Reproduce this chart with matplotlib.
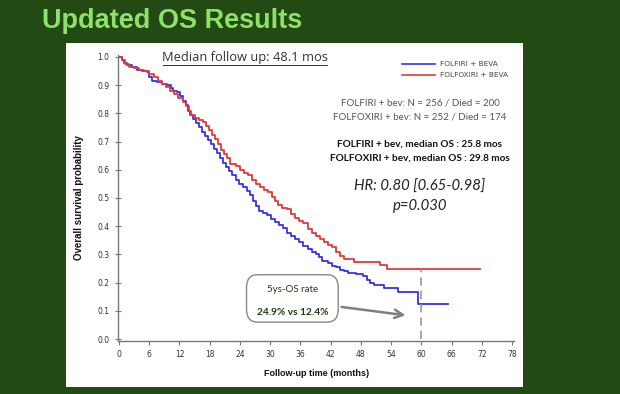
import matplotlib
matplotlib.use("Agg")
import matplotlib.pyplot as plt
from matplotlib.patches import FancyBboxPatch

# Kaplan-Meier steps (months, survival probability)
folfiri_t = [0, 0.5, 1.0, 1.5, 2.5, 3.5, 4.5, 5.5, 6.0, 6.5, 7.5, 8.5, 9.5, 10.3, 10.8,
             11.5, 12.2, 12.7, 13.2, 13.6, 14.0, 14.6, 15.2, 15.8, 16.4, 17.0, 17.6,
             18.2, 18.8, 19.4, 20.0, 20.6, 21.2, 21.8, 22.5, 23.2, 23.9, 24.6, 25.3,
             26.0, 26.6, 27.1, 27.8, 28.6, 29.4, 30.2, 31.0, 31.8, 32.6, 33.4, 34.2,
             35.0, 35.8, 36.6, 37.4, 38.2, 39.0, 39.6, 40.3, 41.5, 42.3, 43.0, 43.8,
             44.6, 45.5, 47.0, 48.5, 49.2, 49.8, 50.6, 52.5, 55.4, 59.3, 65.3]
folfiri_s = [1.0, 0.99, 0.98, 0.97, 0.965, 0.955, 0.95, 0.945, 0.93, 0.915, 0.91, 0.905,
             0.90, 0.89, 0.88, 0.875, 0.86, 0.845, 0.83, 0.81, 0.795, 0.78, 0.765, 0.75,
             0.735, 0.72, 0.705, 0.69, 0.675, 0.66, 0.64, 0.625, 0.61, 0.595, 0.58,
             0.565, 0.55, 0.54, 0.525, 0.51, 0.49, 0.47, 0.455, 0.447, 0.44, 0.425,
             0.415, 0.405, 0.395, 0.375, 0.365, 0.355, 0.345, 0.33, 0.32, 0.31, 0.30,
             0.29, 0.275, 0.27, 0.26, 0.255, 0.245, 0.24, 0.235, 0.23, 0.225, 0.21,
             0.20, 0.19, 0.18, 0.168, 0.124, 0.124]

folfoxiri_t = [0, 0.5, 1.2, 2.0, 3.0, 4.0, 5.0, 6.0, 7.0, 7.8, 8.6, 9.4, 10.2, 11.0,
               11.8, 12.6, 13.3, 13.8, 14.3, 15.0, 15.8, 16.6, 17.2, 17.8, 18.4, 19.0,
               19.6, 20.2, 20.8, 21.4, 22.0, 23.2, 24.0, 24.8, 25.6, 26.4, 27.2, 28.0,
               28.8, 29.6, 30.4, 31.0, 31.6, 32.4, 33.4, 34.2, 35.0, 35.8, 36.6, 37.4,
               38.2, 39.0, 39.8, 40.6, 41.4, 42.2, 43.0, 43.8, 44.6, 46.7, 51.8, 53.1,
               71.6]
folfoxiri_s = [1.0, 0.99, 0.975, 0.965, 0.96, 0.955, 0.95, 0.94, 0.93, 0.915, 0.905,
               0.895, 0.88, 0.87, 0.855, 0.84, 0.825, 0.81, 0.795, 0.785, 0.775, 0.77,
               0.755, 0.74, 0.725, 0.71, 0.69, 0.67, 0.655, 0.64, 0.62, 0.612, 0.60,
               0.59, 0.58, 0.565, 0.55, 0.54, 0.53, 0.52, 0.505, 0.49, 0.475, 0.465,
               0.46, 0.445, 0.43, 0.42, 0.41, 0.39, 0.375, 0.365, 0.355, 0.345, 0.335,
               0.325, 0.31, 0.295, 0.283, 0.274, 0.262, 0.248, 0.248]

series_names = ["FOLFIRI + BEVA", "FOLFOXIRI + BEVA"]
x_ticks = list(range(0, 79, 6))
y_ticks = [i / 10 for i in range(11)]
five_year = 60
os5_red = 0.248

BG = "#224a12"
BLUE = "#3535e0"
RED = "#e23a3a"

fig = plt.figure(figsize=(6.2, 3.94), dpi=100)
fig.patch.set_facecolor(BG)

# white slide panel as a bare background axes
panel = fig.add_axes([0.1065, 0.0178, 0.737, 0.873], zorder=-5)
panel.set_facecolor("white")
panel.set_xticks([])
panel.set_yticks([])
for s in panel.spines.values():
    s.set_visible(False)

fig.text(0.068, 0.928, "Updated OS Results", color="#8de068", fontsize=19.5,
         fontweight="bold", family="Liberation Sans", va="baseline")

ax = fig.add_axes([0.1903, 0.1345, 0.639, 0.726])
ax.set_facecolor("none")
ax.step(folfiri_t, folfiri_s, where="post", color=BLUE, lw=1.3, label=series_names[0])
ax.step(folfoxiri_t, folfoxiri_s, where="post", color=RED, lw=1.3, label=series_names[1])

ax.set_xlim(-0.2, 78.4)
ax.set_ylim(-0.007, 1.007)
ax.set_xticks(x_ticks)
ax.set_yticks(y_ticks)
ax.set_yticklabels([f"{v:.1f}" for v in y_ticks])
for s in ["top", "right"]:
    ax.spines[s].set_visible(False)
for s in ["left", "bottom"]:
    ax.spines[s].set_color("#777777")
    ax.spines[s].set_linewidth(1.0)
ax.tick_params(colors="#777777", labelcolor="#333333", labelsize=5.5, length=3,
               width=0.8, direction="out")
ax.tick_params(axis="y", direction="inout", length=5)

ax.set_xlabel("Follow-up time (months)", fontsize=6.5, fontweight="bold",
              color="#111111", labelpad=7, family="Liberation Sans")
ax.set_ylabel("Overall survival probability", fontsize=7, fontweight="bold",
              color="#111111", labelpad=10, family="Liberation Sans")

# 5-year marker
ax.plot([five_year, five_year], [0, os5_red], ls=(0, (5, 3)), color="#999999", lw=1.2)

# legend drawn by hand to match the SAS style
ax.plot([56.1, 62.7], [0.975, 0.975], color=BLUE, lw=1.2)
ax.plot([56.1, 62.7], [0.936, 0.936], color=RED, lw=1.2)
ax.text(63.7, 0.975, series_names[0], fontsize=5.3, color="#444444", va="center")
ax.text(63.7, 0.936, series_names[1], fontsize=5.3, color="#444444", va="center")

ax.text(25, 0.997, "Median follow up: 48.1 mos", fontsize=9.3, color="#333333",
        ha="center", va="center", family="Open Sans")
ax.plot([8.7, 41.3], [0.972, 0.972], color="#333333", lw=0.7)

ax.text(59.7, 0.836, "FOLFIRI + bev: N = 256 / Died = 200", fontsize=7,
        color="#555555", ha="center", va="center", family="Lato")
ax.text(59.7, 0.786, "FOLFOXIRI + bev: N = 252 / Died = 174", fontsize=7,
        color="#555555", ha="center", va="center", family="Lato")
ax.text(59.7, 0.691, "FOLFIRI + bev, median OS : 25.8 mos", fontsize=7.2,
        color="#111111", ha="center", va="center", family="Lato", fontweight="bold")
ax.text(59.7, 0.643, "FOLFOXIRI + bev, median OS : 29.8 mos", fontsize=7.2,
        color="#111111", ha="center", va="center", family="Lato", fontweight="bold")
ax.text(59.7, 0.54, "HR: 0.80 [0.65-0.98]", fontsize=10.7, color="#222222",
        ha="center", va="center", family="Lato", style="italic")
ax.text(59.7, 0.472, "p=0.030", fontsize=10.7, color="#222222",
        ha="center", va="center", family="Lato", style="italic")

# callout box
box = FancyBboxPatch((25.3, 0.06), 18.2, 0.168, boxstyle="round,pad=0,rounding_size=2.2",
                     mutation_aspect=0.0205, facecolor="white", edgecolor="#888888",
                     lw=1.0, zorder=3)
ax.add_patch(box)
ax.text(34.4, 0.174, "5ys-OS rate", fontsize=7, color="#1e3a10", ha="center",
        va="center", family="Lato", zorder=4)
ax.text(34.4, 0.093, "24.9% vs 12.4%", fontsize=7.3, color="#1e3a10", ha="center",
        va="center", family="Lato", fontweight="bold", zorder=4)
ax.annotate("", xy=(57.4, 0.083), xytext=(43.6, 0.115),
            arrowprops=dict(arrowstyle="->,head_length=0.6,head_width=0.3",
                            color="#808080", lw=1.8), zorder=4)

fig.savefig("out.png", dpi=100, facecolor=BG)
